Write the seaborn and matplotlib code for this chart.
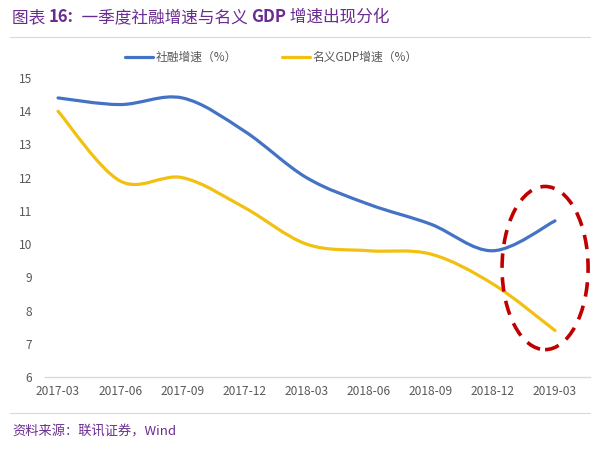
import numpy as np
import matplotlib.pyplot as plt
import seaborn as sns
from matplotlib.path import Path
from matplotlib.patches import PathPatch, Ellipse
from matplotlib.lines import Line2D

# 数据
quarters = ['2017-03', '2017-06', '2017-09', '2017-12', '2018-03',
            '2018-06', '2018-09', '2018-12', '2019-03']
tsf_growth = [14.4, 14.2, 14.4, 13.4, 12.0, 11.2, 10.6, 9.8, 10.7]
gdp_growth = [14.0, 11.9, 12.0, 11.1, 10.0, 9.8, 9.7, 8.8, 7.4]

sns.set_theme(style='white')
plt.rcParams['font.family'] = ['Noto Sans CJK SC', 'DejaVu Sans']

purple = '#6B2C91'
blue = '#4472C4'
yellow = '#F2C010'


def smooth_path(xs, ys):
    # Excel 风格平滑线: 以 Bezier 曲线连接各点
    pts = np.column_stack([xs, ys]).astype(float)
    verts = [pts[0]]
    codes = [Path.MOVETO]
    n = len(pts)
    for i in range(n - 1):
        p0 = pts[i - 1] if i > 0 else pts[i]
        p1 = pts[i]
        p2 = pts[i + 1]
        p3 = pts[i + 2] if i + 2 < n else pts[i + 1]
        c1 = p1 + (p2 - p0) / 6
        c2 = p2 - (p3 - p1) / 6
        verts += [c1, c2, p2]
        codes += [Path.CURVE4] * 3
    return Path(verts, codes)


fig = plt.figure(figsize=(6, 4.55), dpi=100)
ax = fig.add_axes([0.075, 0.1714, 0.908, 0.6572])

x = np.arange(len(quarters))
for vals, col in [(tsf_growth, blue), (gdp_growth, yellow)]:
    ax.add_patch(PathPatch(smooth_path(x, vals), fill=False, edgecolor=col,
                           lw=2.3, capstyle='round', joinstyle='round'))

ax.set_xlim(-0.21, 8.56)
ax.set_ylim(6, 15)
ax.set_yticks(range(6, 16))
ax.set_xticks(x)
ax.set_xticklabels(quarters)
ax.tick_params(axis='both', length=0, labelsize=8.6, colors='#595959', pad=6)
ax.tick_params(axis='y', pad=9)
for s in ['top', 'right', 'left']:
    ax.spines[s].set_visible(False)
ax.spines['bottom'].set_color('#D9D9D9')
ax.spines['bottom'].set_linewidth(1.0)

# 红色虚线椭圆
ax.add_patch(Ellipse((7.84, 9.28), 1.385, 4.91, fill=False, edgecolor='#C00000',
                     lw=2.6, linestyle=(0, (4, 2.6)), clip_on=False))

# 图例
handles = [Line2D([], [], color=blue, lw=2.3),
           Line2D([], [], color=yellow, lw=2.3)]
fig.legend(handles, ['社融增速（%）', '名义GDP增速（%）'], loc='center',
           bbox_to_anchor=(0.452, 0.873), ncol=2, frameon=False, fontsize=8.5,
           handlelength=2.4, handletextpad=0.2, columnspacing=3.8,
           labelcolor='#595959')

# 标题: 数字与 GDP 加粗, 各段依次接排
parts = [('图表 ', 'normal'), ('16:', 'bold'), ('  一季度社融增速与名义 ', 'normal'),
         ('GDP', 'bold'), (' 增速出现分化', 'normal')]
prev = fig.text(0.02, 0.962, parts[0][0], color=purple, fontsize=12,
                va='center', fontweight=parts[0][1])
for txt, wt in parts[1:]:
    prev = ax.annotate(txt, xy=(1, 0.5), xycoords=prev, va='center', ha='left',
                       color=purple, fontsize=12, fontweight=wt,
                       annotation_clip=False)

fig.add_artist(Line2D([0.017, 0.983], [0.918, 0.918], color='#D9D9D9', lw=0.8))
fig.add_artist(Line2D([0.017, 0.983], [0.093, 0.093], color='#D9D9D9', lw=0.8))
fig.text(0.02, 0.05, '资料来源：联讯证券，Wind', color=purple, fontsize=9.5,
         va='center', style='italic')

fig.savefig('out.png', dpi=100)
